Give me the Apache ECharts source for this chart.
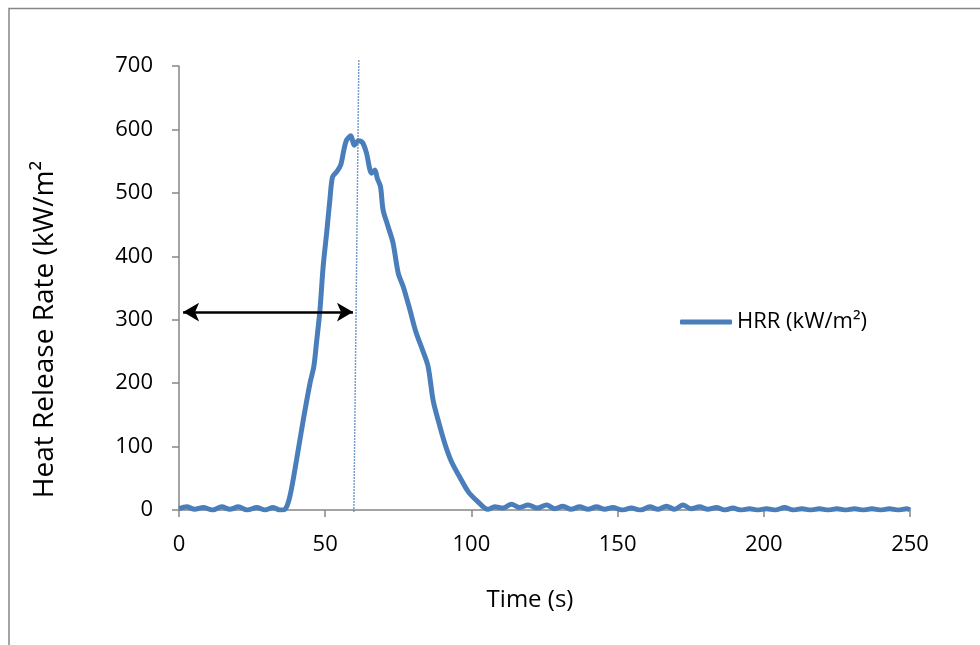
<!DOCTYPE html>
<html>
<head>
<meta charset="utf-8">
<script src="https://cdn.jsdelivr.net/npm/echarts@6/dist/echarts.min.js"></script>
<style>
html,body{margin:0;padding:0;background:#fff;}
#c{width:980px;height:645px;}
</style>
</head>
<body>
<div id="c"></div>
<script>
const times = [0,2.6,5.4,8.3,11.4,14.6,17.4,20.3,23.4,26.6,29.4,32.2,34.5,36.2,37.9,40.2,42.5,44.8,46.1,47.0,48.2,49.3,50.5,51.6,52.5,53.9,55.3,56.4,57.3,58.8,59.9,61.3,62.8,64.1,65.9,67.0,67.8,68.9,69.8,71.5,73.2,75.0,76.7,79.0,81.0,83.3,85.2,86.9,88.6,90.9,93.2,96.0,98.9,102.0,105.6,108,110.8,113.7,116.5,119.4,122.5,125.7,128.5,131.3,134.1,137.0,139.9,142.8,145.6,148.4,151.5,154.7,157.8,161,163.8,166.7,169.5,172.3,175.1,178,180.9,183.8,186.6,189.4,192.2,195.1,198,200.9,204,207.1,210,213,216,219,222,225,228,231,234,237,240,243,246,249,250];
const hrr = [2,5,1,4,0,5,1,5,0,4,0,4,0,1,21,79,142,200,226,263,315,384,437,489,525,533,544,568,583,590,575,582,579,563,531,536,523,510,473,447,421,373,352,315,281,252,226,173,142,105,76,52,29,14,1,5,3,9,4,8,3,8,2,6,1,5,1,5,1,4,0,3,0,5,1,6,1,8,2,5,1,4,0,3,0,2,0,2,0,4,0,2,0,2,0,2,0,2,0,2,0,2,0,2,0];
const xTicks = [0,50,100,150,200,250];
const yTicks = [0,100,200,300,400,500,600,700];
const peakLine = [[61.5,709],[59.8,-3]];
const arrowSpan = [[1.4,312],[59.5,312]];
const seriesName = 'HRR (kW/m²)';
const xTitle = 'Time (s)';
const yTitle = 'Heat Release Rate (kW/m²';

const FONT = '"Open Sans", "Noto Sans", sans-serif';
const chart = echarts.init(document.getElementById('c'), null, {renderer:'canvas'});
const axisGray = '#868686';
const blue = '#4a7ebb';
chart.setOption({
  animation:false,
  backgroundColor:'#fff',
  grid:{left:179,right:70,top:66,bottom:135,containLabel:false},
  graphic:[{type:'rect',shape:{x:9,y:8.5,width:1100,height:800},style:{fill:null,stroke:axisGray,lineWidth:1.5},silent:true}],
  legend:{
    data:[{name:seriesName,icon:'roundRect'}],left:675,top:306,itemWidth:52,itemHeight:5,itemGap:5,
    itemStyle:{color:blue},
    textStyle:{fontFamily:FONT,fontSize:22,color:'#000'}
  },
  xAxis:{
    type:'value',min:xTicks[0],max:xTicks[xTicks.length-1],interval:50,
    splitLine:{show:false},
    axisLine:{lineStyle:{color:axisGray,width:1.5}},
    axisTick:{show:true,length:7,lineStyle:{color:axisGray,width:1.5}},
    axisLabel:{fontFamily:FONT,fontSize:22,color:'#000',margin:24},
    name:xTitle,nameLocation:'middle',nameGap:78,
    nameTextStyle:{fontFamily:FONT,fontSize:24,color:'#000',padding:[0,29,0,0]}
  },
  yAxis:{
    type:'value',min:yTicks[0],max:yTicks[yTicks.length-1],interval:100,
    splitLine:{show:false},
    axisLine:{show:true,lineStyle:{color:axisGray,width:1.5}},
    axisTick:{show:true,length:7,lineStyle:{color:axisGray,width:1.5}},
    axisLabel:{fontFamily:FONT,fontSize:22,color:'#000',margin:26},
    name:yTitle,nameLocation:'middle',nameGap:120,
    nameTextStyle:{fontFamily:FONT,fontSize:28,color:'#000',padding:[0,83,0,0]}
  },
  series:[
    {
      name:seriesName,type:'line',data:times.map((t,i)=>[t,hrr[i]]),
      smooth:0.3,symbol:'none',lineStyle:{color:blue,width:5},itemStyle:{color:blue},z:3
    },
    {
      name:'peak',type:'line',data:peakLine,symbol:'none',clip:false,
      lineStyle:{color:blue,width:1.5,type:'dotted'},z:2,silent:true
    },
    {
      name:'span',type:'line',data:[],symbol:'none',
      markLine:{
        silent:true,symbol:['arrow','arrow'],symbolSize:[14,16],
        label:{show:false},
        lineStyle:{color:'#000',width:2.5,type:'solid'},
        data:[[{coord:arrowSpan[0]},{coord:arrowSpan[1]}]]
      }
    }
  ]
});
</script>
</body>
</html>
